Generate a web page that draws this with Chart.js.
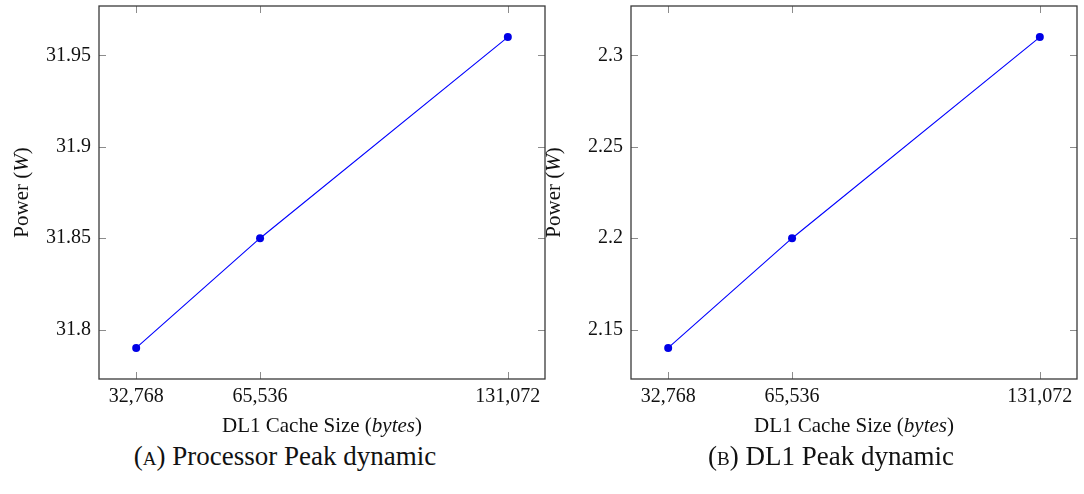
<!DOCTYPE html>
<html lang="en">
<head>
  <meta charset="UTF-8" />
  <title>DL1 cache size vs. peak dynamic power</title>
  <script src="https://cdn.jsdelivr.net/npm/chart.js"></script>
  <style>
    html, body {
      margin: 0;
      padding: 0;
      background: #fff;
      overflow: hidden;
    }
    #page {
      position: relative;
      width: 1084px;
      height: 494px;
    }
    canvas {
      position: absolute;
      top: 0;
    }
    .caption {
      position: absolute;
      top: 440px;
      width: 400px;
      text-align: center;
      font-family: "Liberation Serif", serif;
      font-size: 27px;
      line-height: 32px;
      color: #111;
    }
    .sc {
      font-variant: small-caps;
    }
  </style>
</head>
<body>
  <div id="page">
    <canvas id="procChart" width="560" height="440" style="left:0px"></canvas>
    <canvas id="dl1Chart" width="552" height="440" style="left:532px"></canvas>
    <div class="caption" style="left:85px">(<span class="sc">a</span>) Processor Peak dynamic</div>
    <div class="caption" style="left:631px">(<span class="sc">b</span>) DL1 Peak dynamic</div>
  </div>

  <script>
    // cache sizes in bytes
    const cacheSizes = [32768, 65536, 131072];

    // peak dynamic power (W)
    const processorPower = [31.79, 31.85, 31.96];
    const dl1Power = [2.14, 2.20, 2.31];

    // y tick values
    const processorTicks = [31.8, 31.85, 31.9, 31.95];
    const dl1Ticks = [2.15, 2.2, 2.25, 2.3];

    const SERIF = '"Liberation Serif", "Times New Roman", serif';

    // draws a line of text made of plain / italic pieces, centred on (cx, cy)
    function drawRich(ctx, parts, cx, cy, rot, size) {
      ctx.save();
      ctx.translate(cx, cy);
      ctx.rotate(rot);
      const fonts = parts.map(p => (p[1] ? 'italic ' : '') + size + 'px ' + SERIF);
      const widths = parts.map((p, i) => {
        ctx.font = fonts[i];
        return ctx.measureText(p[0]).width;
      });
      let xpos = -widths.reduce((s, w) => s + w, 0) / 2;
      ctx.textAlign = 'left';
      ctx.textBaseline = 'middle';
      ctx.fillStyle = '#111';
      parts.forEach((p, i) => {
        ctx.font = fonts[i];
        ctx.fillText(p[0], xpos, 0);
        xpos += widths[i];
      });
      ctx.restore();
    }

    // box frame, inward ticks on all four sides, and the axis titles
    const frameAndTicks = {
      id: 'frameAndTicks',
      beforeDatasetsDraw(chart) {
        const { ctx, chartArea: a, scales: { x, y } } = chart;
        const len = 7;
        ctx.save();
        ctx.strokeStyle = '#8c8c8c';
        ctx.lineWidth = 1;
        ctx.beginPath();
        x.ticks.forEach(t => {
          const px = Math.round(x.getPixelForValue(t.value)) + 0.5;
          ctx.moveTo(px, a.bottom);
          ctx.lineTo(px, a.bottom - len);
          ctx.moveTo(px, a.top);
          ctx.lineTo(px, a.top + len);
        });
        y.ticks.forEach(t => {
          const py = Math.round(y.getPixelForValue(t.value)) + 0.5;
          ctx.moveTo(a.left, py);
          ctx.lineTo(a.left + len, py);
          ctx.moveTo(a.right, py);
          ctx.lineTo(a.right - len, py);
        });
        ctx.stroke();

        ctx.strokeStyle = '#3a3a3a';
        ctx.lineWidth = 1.3;
        ctx.strokeRect(a.left, a.top, a.right - a.left, a.bottom - a.top);

        drawRich(ctx, [['DL1 Cache Size (', false], ['bytes', true], [')', false]],
          (a.left + a.right) / 2, x.bottom - 14, 0, 21);
        drawRich(ctx, [['Power (', false], ['W', true], [')', false]],
          y.left + 22, (a.top + a.bottom) / 2, -Math.PI / 2, 21);
        ctx.restore();
      }
    };

    function makeChart(canvasId, values, yTicks, rightPad) {
      const lo = Math.min(...values), hi = Math.max(...values);
      const yPad = (hi - lo) * 0.1;
      const xLo = cacheSizes[0], xHi = cacheSizes[cacheSizes.length - 1];
      const xPad = (xHi - xLo) * 0.1;

      return new Chart(document.getElementById(canvasId).getContext('2d'), {
        type: 'line',
        data: {
          datasets: [{
            data: cacheSizes.map((c, i) => ({ x: c, y: values[i] })),
            borderColor: '#0000ff',
            borderWidth: 1.1,
            backgroundColor: '#0000e6',
            pointBackgroundColor: '#0000e6',
            pointBorderColor: '#0000e6',
            pointRadius: 4,
            pointBorderWidth: 0,
            tension: 0,
            fill: false
          }]
        },
        options: {
          responsive: false,
          animation: false,
          layout: { padding: { left: 0, top: 6, right: rightPad, bottom: 0 } },
          plugins: {
            legend: { display: false },
            tooltip: { enabled: false }
          },
          scales: {
            x: {
              type: 'linear',
              min: xLo - xPad,
              max: xHi + xPad,
              grid: { display: false, drawTicks: false },
              border: { display: false },
              afterBuildTicks: s => { s.ticks = cacheSizes.map(v => ({ value: v })); },
              afterFit: s => {
                s.height = 61;
                s.paddingLeft = 0;
                s.paddingRight = 0;
              },
              ticks: {
                autoSkip: false,
                maxRotation: 0,
                padding: 6,
                color: '#111',
                font: { family: SERIF, size: 20 },
                callback: v => v.toLocaleString('en-US')
              }
            },
            y: {
              min: lo - yPad,
              max: hi + yPad,
              grid: { display: false, drawTicks: false },
              border: { display: false },
              afterBuildTicks: s => { s.ticks = yTicks.map(v => ({ value: v })); },
              afterFit: s => {
                s.width = 99;
                s.paddingTop = 0;
                s.paddingBottom = 0;
              },
              ticks: {
                autoSkip: false,
                padding: 8,
                color: '#111',
                font: { family: SERIF, size: 20 },
                callback: v => String(v)
              }
            }
          }
        },
        plugins: [frameAndTicks]
      });
    }

    makeChart('procChart', processorPower, processorTicks, 15);
    makeChart('dl1Chart', dl1Power, dl1Ticks, 7);
  </script>
</body>
</html>
